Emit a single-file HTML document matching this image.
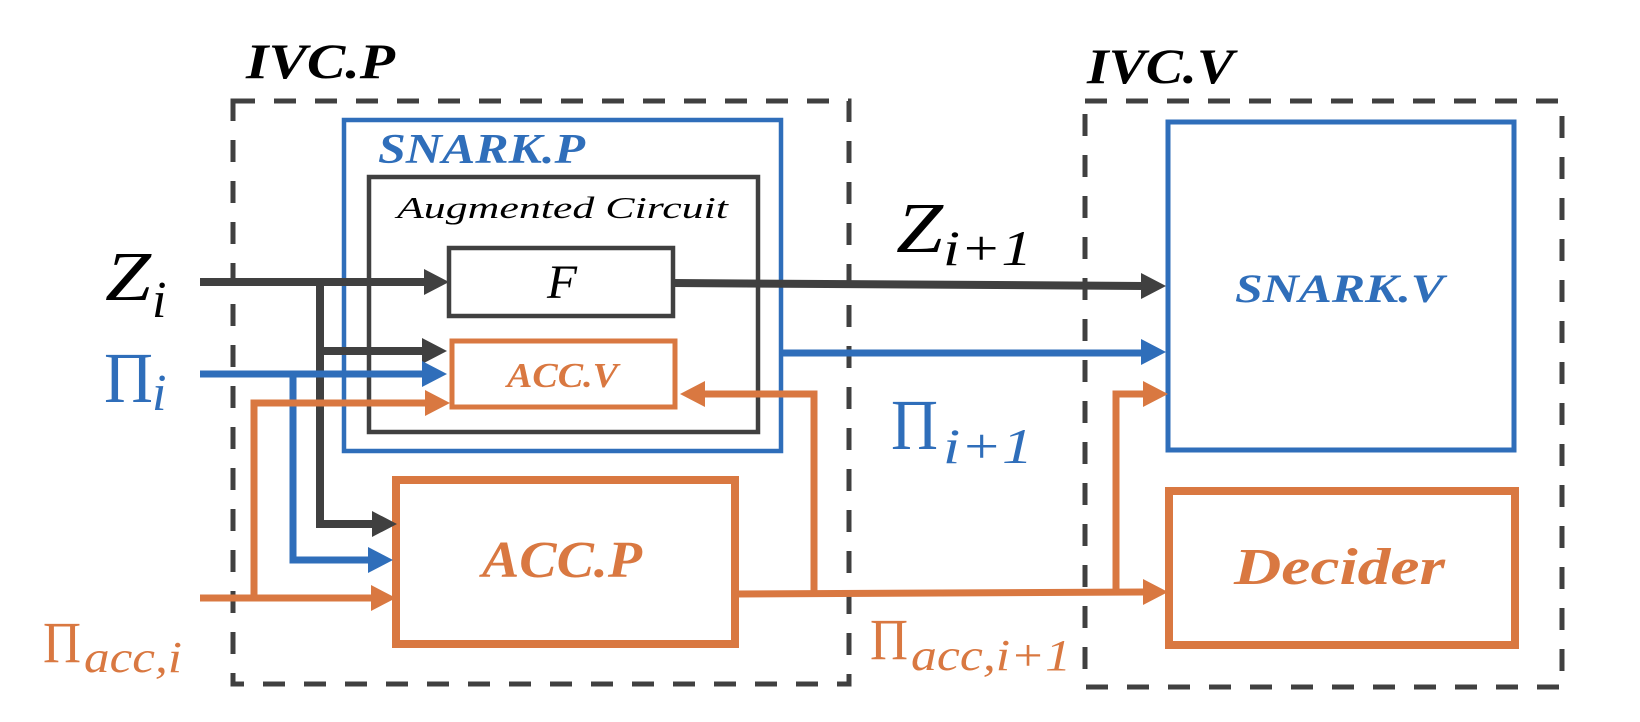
<!DOCTYPE html>
<html><head><meta charset="utf-8"><style>
html,body{margin:0;padding:0;background:#fff;}
svg{display:block;}
text{font-family:"Liberation Serif",serif;font-style:italic;}
</style></head><body>
<svg width="1640" height="722" viewBox="0 0 1640 722" xmlns="http://www.w3.org/2000/svg">
<defs>
<marker id="ag" markerWidth="6" markerHeight="6" refX="5" refY="3" orient="auto" markerUnits="userSpaceOnUse" viewBox="0 0 6 6"></marker>
</defs>
<!-- dashed boxes -->
<rect x="233" y="101" width="616" height="583" fill="none" stroke="#404040" stroke-width="5" stroke-dasharray="22 19"/>
<rect x="1085" y="101" width="477" height="586" fill="none" stroke="#404040" stroke-width="5" stroke-dasharray="22 19"/>
<text x="246" y="78" font-size="50" font-weight="bold" fill="#000" textLength="149" lengthAdjust="spacingAndGlyphs">IVC.P</text>
<text x="1087" y="83" font-size="50" font-weight="bold" fill="#000" textLength="147" lengthAdjust="spacingAndGlyphs">IVC.V</text>

<!-- SNARK.P -->
<rect x="344" y="120" width="437" height="331" fill="none" stroke="#2F6EBA" stroke-width="4.5"/>
<text x="378" y="163" font-size="42" font-weight="bold" fill="#2F6EBA" textLength="207" lengthAdjust="spacingAndGlyphs">SNARK.P</text>
<!-- Augmented -->
<rect x="369" y="177" width="389" height="255" fill="none" stroke="#404040" stroke-width="4.5"/>
<text x="397" y="218" font-size="31" fill="#000" textLength="331" lengthAdjust="spacingAndGlyphs">Augmented Circuit</text>
<!-- F -->
<rect x="449" y="248" width="224" height="68" fill="none" stroke="#404040" stroke-width="4.5"/>
<text x="547" y="298" font-size="48" fill="#000" textLength="30" lengthAdjust="spacingAndGlyphs">F</text>
<!-- ACC.V -->
<rect x="452" y="341" width="223" height="66" fill="none" stroke="#D97841" stroke-width="5"/>
<text x="507" y="387" font-size="35" font-weight="bold" fill="#D97841" textLength="111" lengthAdjust="spacingAndGlyphs">ACC.V</text>
<!-- ACC.P -->
<rect x="396" y="480" width="339" height="164" fill="none" stroke="#D97841" stroke-width="8"/>
<text x="482" y="577" font-size="52" font-weight="bold" fill="#D97841" textLength="160" lengthAdjust="spacingAndGlyphs">ACC.P</text>
<!-- SNARK.V -->
<rect x="1168" y="122" width="346" height="328" fill="none" stroke="#2F6EBA" stroke-width="5"/>
<text x="1235" y="302" font-size="40" font-weight="bold" fill="#2F6EBA" textLength="209" lengthAdjust="spacingAndGlyphs">SNARK.V</text>
<!-- Decider -->
<rect x="1169" y="491" width="346" height="154" fill="none" stroke="#D97841" stroke-width="8"/>
<text x="1234" y="584" font-size="52" font-weight="bold" fill="#D97841" textLength="211" lengthAdjust="spacingAndGlyphs">Decider</text>

<!-- gray lines -->
<g fill="none" stroke="#404040" stroke-width="8">
<line x1="200" y1="282" x2="428" y2="282"/>
<polyline points="320,282 320,524 376,524"/>
<line x1="320" y1="351" x2="428" y2="351"/>
<line x1="673" y1="283" x2="1145" y2="286"/>
</g>
<g fill="#404040">
<polygon points="449,282 424,269 424,295"/>
<polygon points="447,351 422,338 422,364"/>
<polygon points="397,524 372,511 372,537"/>
<polygon points="1166,286 1141,273 1141,299"/>
</g>
<!-- blue lines -->
<g fill="none" stroke="#2F6EBA" stroke-width="7">
<line x1="200" y1="374" x2="426" y2="374"/>
<polyline points="293,374 293,560 372,560"/>
<line x1="781" y1="353" x2="1145" y2="353"/>
</g>
<g fill="#2F6EBA">
<polygon points="447,374 422,361 422,387"/>
<polygon points="393,560 368,547 368,573"/>
<polygon points="1166,352 1141,339 1141,365"/>
</g>
<!-- orange lines -->
<g fill="none" stroke="#D97841" stroke-width="7">
<line x1="200" y1="598" x2="374" y2="598"/>
<polyline points="254,598 254,403 428,403"/>
<polyline points="735,594 1145,592"/>
<polyline points="814,594 814,394 700,394"/>
<polyline points="1116,593 1116,394 1145,394"/>
</g>
<g fill="#D97841">
<polygon points="396,598 371,585 371,611"/>
<polygon points="450,403 425,390 425,416"/>
<polygon points="680,394 705,381 705,407"/>
<polygon points="1168,394 1143,381 1143,407"/>
<polygon points="1168,592 1143,579 1143,605"/>
</g>

<!-- labels -->
<text x="105" y="300" font-size="70" fill="#000" textLength="46" lengthAdjust="spacingAndGlyphs">Z</text>
<text x="152" y="317" font-size="52" fill="#000">i</text>
<text x="104" y="402" font-size="72" font-style="normal" fill="#2F6EBA" style="font-style:normal" textLength="49" lengthAdjust="spacingAndGlyphs">Π</text>
<text x="152" y="410" font-size="52" fill="#2F6EBA">i</text>
<text x="43" y="662" font-size="58" fill="#D97841" style="font-style:normal" textLength="38" lengthAdjust="spacingAndGlyphs">Π</text>
<text x="84" y="672" font-size="44" fill="#D97841" textLength="98" lengthAdjust="spacingAndGlyphs">acc,i</text>

<text x="896" y="252" font-size="72" fill="#000" textLength="47" lengthAdjust="spacingAndGlyphs">Z</text>
<text x="943" y="265" font-size="50" fill="#000" textLength="89" lengthAdjust="spacingAndGlyphs">i+1</text>
<text x="891" y="449" font-size="72" fill="#2F6EBA" style="font-style:normal" textLength="47" lengthAdjust="spacingAndGlyphs">Π</text>
<text x="943" y="463" font-size="50" fill="#2F6EBA" textLength="90" lengthAdjust="spacingAndGlyphs">i+1</text>
<text x="870" y="659" font-size="58" fill="#D97841" style="font-style:normal" textLength="38" lengthAdjust="spacingAndGlyphs">Π</text>
<text x="911" y="670" font-size="44" fill="#D97841" textLength="160" lengthAdjust="spacingAndGlyphs">acc,i+1</text>
</svg>
</body></html>
